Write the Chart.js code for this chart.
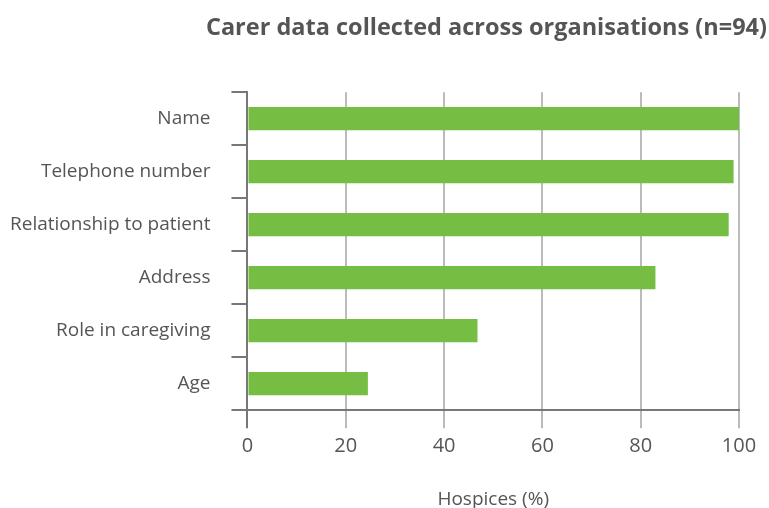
<!DOCTYPE html>
<html>
<head>
<meta charset="utf-8">
<script src="https://cdn.jsdelivr.net/npm/chart.js@4"></script>
<style>
  html, body { margin: 0; padding: 0; background: #fff; }
  #wrap { width: 769px; height: 508px; position: relative; }
</style>
</head>
<body>
<div id="wrap"><canvas id="carerChart"></canvas></div>
<script>
// Chart values
const categories = ['Name', 'Telephone number', 'Relationship to patient', 'Address', 'Role in caregiving', 'Age'];
const hospicePercent = [100, 98.9, 97.9, 83.0, 46.8, 24.5];
const xTicks = [0, 20, 40, 60, 80, 100];

const chartTitle = 'Carer data collected across organisations (n=94)';
const xAxisTitle = 'Hospices (%)';

const fontFamily = '"Open Sans", "Noto Sans", sans-serif';

const ctx = document.getElementById('carerChart').getContext('2d');
const carerChart = new Chart(ctx, {
    type: 'bar',
    data: {
        labels: categories,
        datasets: [{
            data: hospicePercent,
            backgroundColor: '#76bd43',
            borderWidth: 0,
            categoryPercentage: 0.44,
            barPercentage: 1
        }]
    },
    options: {
        indexAxis: 'y',
        responsive: true,
        maintainAspectRatio: false,
        animation: false,
        layout: {
            padding: { left: 10, right: 2, top: 0, bottom: 0 }
        },
        plugins: {
            legend: { display: false },
            tooltip: { enabled: false },
            title: {
                display: true,
                text: chartTitle,
                align: 'end',
                color: '#555555',
                font: { family: fontFamily, size: 23.5, weight: 'bold' },
                padding: { top: 14, bottom: 50 }
            }
        },
        scales: {
            x: {
                min: 0,
                max: 100,
                afterBuildTicks: axis => {
                    axis.ticks = xTicks.map(v => ({ value: v }));
                },
                // keep room on the right so the title can run past the plot
                afterFit: axis => {
                    axis.paddingRight = 30;
                },
                grid: {
                    color: '#bbbbbb',
                    lineWidth: 2,
                    tickLength: 18,
                    tickColor: c => c.index === 0 ? '#777777' : '#bbbbbb'
                },
                border: { color: '#777777', width: 2 },
                ticks: {
                    color: '#555555',
                    padding: 6,
                    font: { family: fontFamily, size: 20 }
                },
                title: {
                    display: true,
                    text: xAxisTitle,
                    color: '#555555',
                    font: { family: fontFamily, size: 19 },
                    padding: { top: 24, bottom: -3 }
                }
            },
            y: {
                offset: true,
                // chart.js counts the tick padding twice here, take one back
                afterFit: axis => {
                    axis.width -= 21;
                },
                grid: {
                    offset: true,
                    drawOnChartArea: false,
                    color: '#777777',
                    lineWidth: 2,
                    tickLength: 16
                },
                border: { color: '#777777', width: 2 },
                ticks: {
                    color: '#555555',
                    padding: 21,
                    font: { family: fontFamily, size: 19 }
                }
            }
        }
    }
});
</script>
</body>
</html>
